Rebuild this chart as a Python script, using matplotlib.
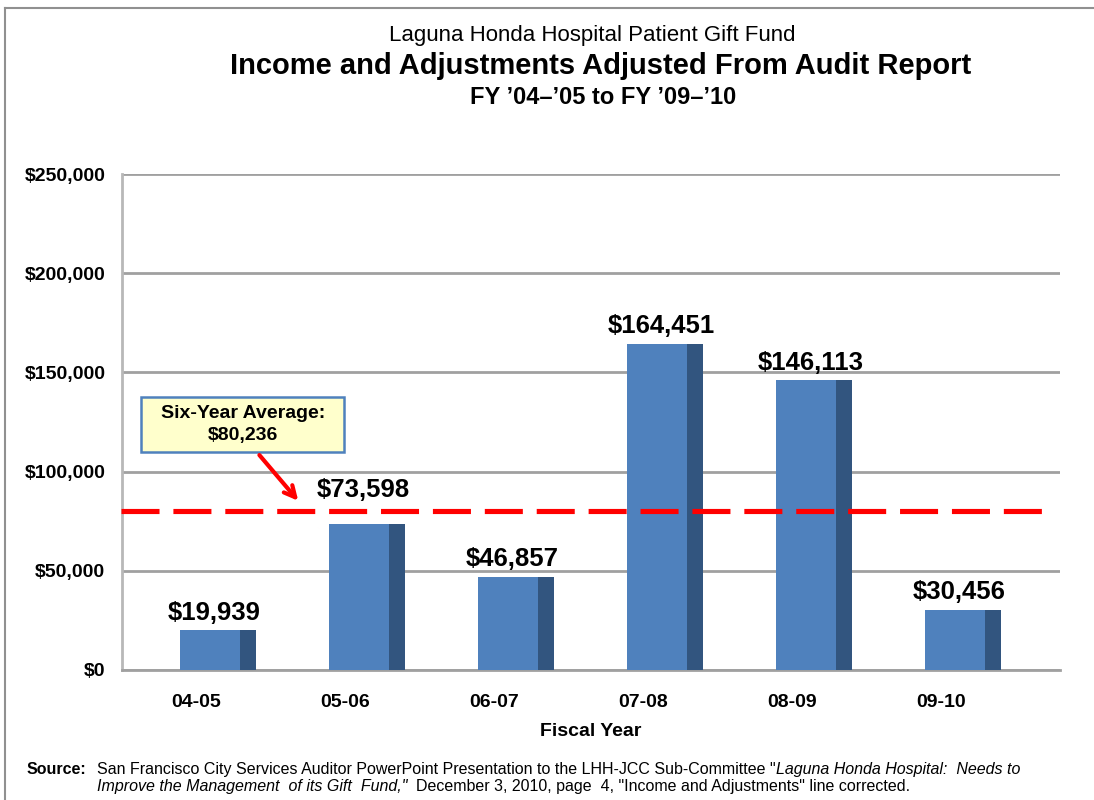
import matplotlib
matplotlib.use("Agg")
import matplotlib.pyplot as plt
from matplotlib.lines import Line2D
from matplotlib.patches import Rectangle
import numpy as np

# data
years = ["04-05", "05-06", "06-07", "07-08", "08-09", "09-10"]
income = [19939, 73598, 46857, 164451, 146113, 30456]
average = 80236
yticks = [0, 50000, 100000, 150000, 200000, 250000]

FRONT = "#4F81BD"
SIDE = "#32557F"
NARROW = ["Liberation Sans Narrow", "Liberation Sans", "DejaVu Sans"]
plt.rcParams["font.family"] = ["Liberation Sans", "DejaVu Sans"]

fig = plt.figure(figsize=(10.94, 8), dpi=100)
ax = fig.add_axes([122 / 1094, 1 - 670 / 800, (1060 - 122) / 1094, (670 - 174) / 800])

x = np.arange(len(years))
# 3D-looking bars: front face plus darker side face
ax.bar(x - 0.11, income, width=0.40, align="edge", color=FRONT, zorder=3)
ax.bar(x + 0.29, income, width=0.11, align="edge", color=SIDE, zorder=3)

lift = [4, 16, 4, 4, 4, 4]  # the 05-06 label sits above the average line
for xi, v, dy in zip(x, income, lift):
    ax.annotate(f"${v:,.0f}", (xi + 0.12, v), xytext=(0, dy), textcoords="offset points",
                ha="center", va="bottom", fontsize=18.5, fontweight="bold", zorder=5)

ax.set_xlim(-0.5, 5.795)
ax.set_ylim(0, 250000)
ax.set_yticks(yticks)
ax.set_yticklabels([f"${t:,.0f}" for t in yticks], fontsize=14, fontweight="bold")
ax.set_xticks(x)
ax.set_xticklabels(years, fontsize=14, fontweight="bold")
ax.tick_params(axis="x", length=0, pad=17)
ax.tick_params(axis="y", length=0, pad=12)
ax.set_xlabel("Fiscal Year", fontsize=14, fontweight="bold", labelpad=9)

ax.grid(axis="y", color="#A0A0A0", linewidth=2, zorder=1)
for s in ["top", "right"]:
    ax.spines[s].set_visible(False)
ax.spines["left"].set_color("#B8B8B8")
ax.spines["left"].set_linewidth(2)
ax.spines["bottom"].set_color("#A0A0A0")
ax.spines["bottom"].set_linewidth(2)

# six-year average line
ax.plot([-0.51, 5.68], [average, average], color="#FF0000", linewidth=3.7,
        dashes=(7.4, 2.7), clip_on=False, zorder=4)
ax.add_patch(Rectangle((-0.372, 109880), 1.362, 27720, facecolor="#FFFFCC",
                       edgecolor="#4F81BD", linewidth=1.8, zorder=6, clip_on=False))
ax.text(0.31, 123800, f"Six-Year Average:\n${average:,.0f}", ha="center", va="center",
        fontsize=14, fontweight="bold", linespacing=1.35, zorder=7)
ax.annotate("", xy=(0.695, 84200), xytext=(0.41, 109400),
            arrowprops=dict(arrowstyle="->", color="#FF0000", lw=3, mutation_scale=20), zorder=6)

# titles
fig.text(592 / 1094, 1 - 35 / 800, "Laguna Honda Hospital Patient Gift Fund", ha="center", va="center",
         fontsize=16, family=NARROW)
fig.text(601 / 1094, 1 - 66 / 800, "Income and Adjustments Adjusted From Audit Report", ha="center", va="center",
         fontsize=21, fontweight="bold", family=NARROW)
fig.text(603 / 1094, 1 - 98 / 800, "FY \u201904\u2013\u201905 to FY \u201909\u2013\u201910", ha="center", va="center",
         fontsize=17, fontweight="bold", family=NARROW)

# source note
src1 = "San Francisco City Services Auditor PowerPoint Presentation to the LHH-JCC Sub-Committee \""
src1i = "Laguna Honda Hospital:  Needs to"
src2i = "Improve the Management  of its Gift  Fund,\""
src2 = "  December 3, 2010, page  4, \"Income and Adjustments\" line corrected."
fs = 11.5

fig.text(27 / 1094, 1 - 774 / 800, "Source:", fontsize=fs, family=NARROW, fontweight="bold", va="baseline")
t1 = fig.text(97 / 1094, 1 - 774 / 800, src1, fontsize=fs, family=NARROW, va="baseline")
t2 = fig.text(97 / 1094, 1 - 791 / 800, src2i, fontsize=fs, family=NARROW, fontstyle="italic", va="baseline")
fig.canvas.draw()
r = fig.canvas.get_renderer()
bb1 = t1.get_window_extent(r)
fig.text(bb1.x1 / fig.bbox.width, 1 - 774 / 800, src1i, fontsize=fs, family=NARROW,
         fontstyle="italic", va="baseline")
bb2 = t2.get_window_extent(r)
fig.text(bb2.x1 / fig.bbox.width, 1 - 791 / 800, src2, fontsize=fs, family=NARROW, va="baseline")

# outer frame of the slide
fig.add_artist(Line2D([5 / 1094, 1], [1 - 8 / 800, 1 - 8 / 800], transform=fig.transFigure,
                      color="#909090", linewidth=1.5))
fig.add_artist(Line2D([5 / 1094, 5 / 1094], [0, 1 - 8 / 800], transform=fig.transFigure,
                      color="#909090", linewidth=1.5))

fig.savefig("out.png", dpi=100)
